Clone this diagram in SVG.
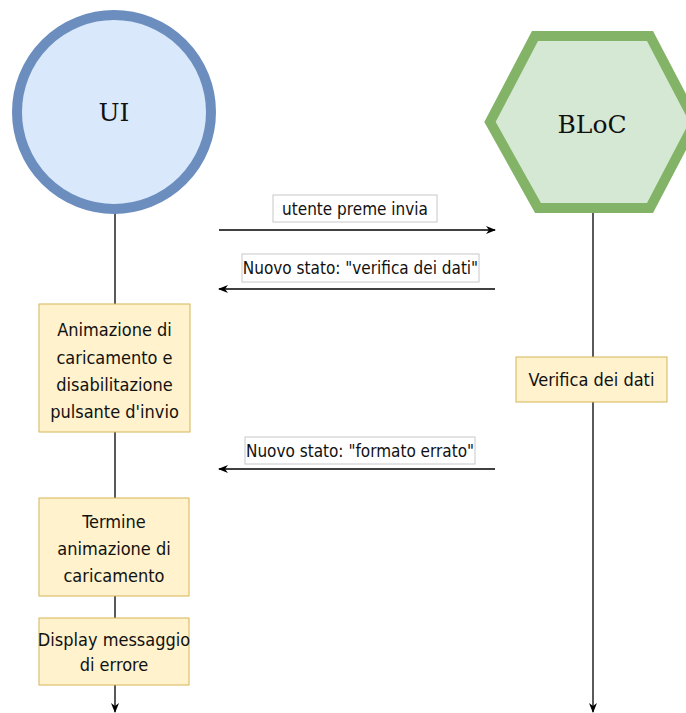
<svg xmlns="http://www.w3.org/2000/svg" width="686" height="713" viewBox="0 0 686 713">
  <defs>
    <marker id="arrow" viewBox="0 0 10 10" refX="9" refY="5" markerWidth="10" markerHeight="10" markerUnits="userSpaceOnUse" orient="auto">
      <path d="M0,1 L10,5 L0,9 L3,5 Z" fill="#000"/>
    </marker>
  </defs>
  <style>
    .life { stroke: #000; stroke-width: 1.3; fill: none; }
    .msg { stroke: #000; stroke-width: 1.5; fill: none; }
    .note { fill: #fff2cc; stroke: #d6b656; stroke-width: 1; }
    .lbl { fill: #fff; stroke: #c8c8c8; stroke-width: 1; }
    .hand { font-family: "Liberation Sans Narrow", "DejaVu Sans Condensed", "Liberation Sans", sans-serif; font-size: 18px; fill: #111; text-anchor: middle; dominant-baseline: central; }
    .msgtxt { font-size: 17px; }
    .title { font-family: "DejaVu Serif", "Liberation Serif", serif; font-size: 25px; fill: #111; text-anchor: middle; dominant-baseline: central; }
  </style>
  <rect width="686" height="713" fill="#fff"/>

  <!-- lifelines and messages -->
  <g id="connectors">
    <line class="life" x1="115" y1="213" x2="115" y2="304"/>
    <line class="life" x1="115" y1="432" x2="115" y2="498"/>
    <line class="life" x1="115" y1="596" x2="115" y2="618"/>
    <line class="life" x1="115" y1="685" x2="115" y2="712" marker-end="url(#arrow)"/>
    <line class="life" x1="593" y1="208" x2="593" y2="357"/>
    <line class="life" x1="593" y1="402" x2="593" y2="712" marker-end="url(#arrow)"/>
    <line class="msg" x1="219" y1="230" x2="495" y2="230" marker-end="url(#arrow)"/>
    <line class="msg" x1="495" y1="289" x2="219" y2="289" marker-end="url(#arrow)"/>
    <line class="msg" x1="495" y1="469" x2="219" y2="469" marker-end="url(#arrow)"/>
    <g id="label-invia">
      <rect class="lbl" x="273" y="195" width="164" height="27"/>
      <text class="hand msgtxt" x="355" y="208.5">utente preme invia</text>
    </g>
    <g id="label-verifica">
      <rect class="lbl" x="242" y="254" width="237" height="28"/>
      <text class="hand msgtxt" x="360.5" y="268">Nuovo stato: "verifica dei dati"</text>
    </g>
    <g id="label-errato">
      <rect class="lbl" x="245" y="437" width="230" height="27"/>
      <text class="hand msgtxt" x="360" y="450.5">Nuovo stato: "formato errato"</text>
    </g>
  </g>

  <g id="ui">
    <circle cx="114" cy="112" r="97" fill="#dae8fc" stroke="#6c8ebf" stroke-width="10"/>
    <text class="title" x="114" y="112">UI</text>
  </g>

  <g id="bloc">
    <polygon points="535,36 650,36 695,122 650,208 538,208 490,122" fill="#d5e8d4" stroke="#82b366" stroke-width="10" stroke-linejoin="miter"/>
    <text class="title" x="592" y="124">BLoC</text>
  </g>

  <g id="animazione">
    <rect class="note" x="39" y="304" width="151" height="128"/>
    <text class="hand" x="114.5" y="329">Animazione di</text>
    <text class="hand" x="114.5" y="357">caricamento e</text>
    <text class="hand" x="114.5" y="384">disabilitazione</text>
    <text class="hand" x="114.5" y="411">pulsante d'invio</text>
  </g>

  <g id="verifica">
    <rect class="note" x="516" y="357" width="151" height="45"/>
    <text class="hand" x="591.5" y="379.5">Verifica dei dati</text>
  </g>

  <g id="termine">
    <rect class="note" x="39" y="498" width="150" height="98"/>
    <text class="hand" x="114" y="521">Termine</text>
    <text class="hand" x="114" y="548">animazione di</text>
    <text class="hand" x="114" y="575">caricamento</text>
  </g>

  <g id="errore">
    <rect class="note" x="39" y="618" width="150" height="67"/>
    <text class="hand" x="114" y="639">Display messaggio</text>
    <text class="hand" x="114" y="664">di errore</text>
  </g>
</svg>
